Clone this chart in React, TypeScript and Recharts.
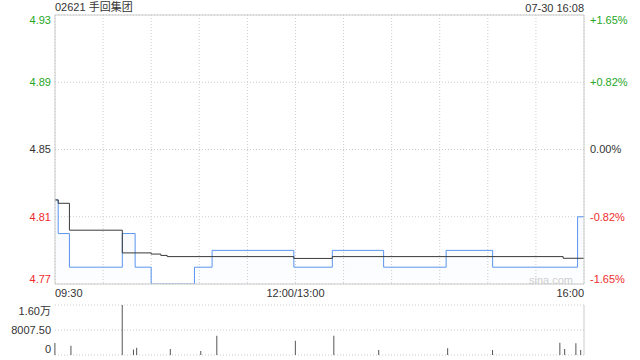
import React from 'react';
import { ComposedChart, Area, Line, XAxis, YAxis, CartesianGrid, BarChart, Bar } from 'recharts';

const title = '02621 手回集团';
const stamp = '07-30 16:08';
const prevClose = 4.85;

// minutes since 09:30 (lunch break removed), change points of the price line
const priceTimes = [0, 2, 9, 42, 50, 60, 87, 98, 149, 173, 205, 244, 273, 326, 330];
const priceValues = [4.82, 4.8, 4.78, 4.8, 4.78, 4.77, 4.78, 4.79, 4.78, 4.79, 4.78, 4.79, 4.78, 4.81, 4.81];

// average price line change points
const avgTimes = [0, 2, 9, 42, 60, 66, 70, 149, 173, 317, 330];
const avgValues = [4.82, 4.818, 4.802, 4.7885, 4.7878, 4.787, 4.7863, 4.7852, 4.7863, 4.7853, 4.7853];

// volume bars
const volTimes = [0, 10, 42, 49, 51, 72, 91, 101, 150, 174, 202, 245, 273, 315, 318, 325, 328];
const volValues = [3840, 2980, 16015, 1800, 2340, 1920, 1280, 6180, 4580, 6180, 1600, 2150, 1600, 3940, 1920, 3740, 1600];

const timeTicks = [0, 30, 60, 90, 120, 150, 180, 210, 240, 270, 300, 330];
const timeLabelTicks = [0, 150, 330];
const timeLabels = ['09:30', '12:00/13:00', '16:00'];

const priceTicks = [4.77, 4.81, 4.85, 4.89, 4.93];
const priceLabels = ['4.77', '4.81', '4.85', '4.89', '4.93'];
const pctLabels = ['-1.65%', '-0.82%', '0.00%', '+0.82%', '+1.65%'];

const volTicks = [0, 8007.5, 16015];
const volLabels = ['0', '8007.50', '1.60万'];

const GREEN = '#26a626';
const RED = '#ee2c2c';
const DARK = '#333333';
const BLUE = '#5a95ee';
const FONT = '"Liberation Sans", Arial, "Noto Sans CJK SC", sans-serif';

const colorFor = (v: number) => (Math.abs(v - prevClose) < 1e-9 ? DARK : v > prevClose ? GREEN : RED);

const allTimes = Array.from(new Set([...priceTimes, ...avgTimes])).sort((a, b) => a - b);
const lineData = allTimes.map((t) => {
  const pi = priceTimes.indexOf(t);
  const ai = avgTimes.indexOf(t);
  return { t, price: pi >= 0 ? priceValues[pi] : null, avg: ai >= 0 ? avgValues[ai] : null };
});
const volData = volTimes.map((t, i) => ({ t, v: volValues[i] }));

const edgeShift = (i: number, n: number, s: number) => (i === n - 1 ? s : i === 0 ? -s : 0);

const LeftTick = (props: any) => {
  const { y, payload } = props;
  const i = priceTicks.indexOf(payload.value);
  if (i < 0) return null;
  return (
    <text x={51} y={y + edgeShift(i, priceTicks.length, 5)} dy="0.35em" textAnchor="end" fontSize={11} fill={colorFor(priceTicks[i])}>
      {priceLabels[i]}
    </text>
  );
};

const RightTick = (props: any) => {
  const { y, payload } = props;
  const i = priceTicks.indexOf(payload.value);
  if (i < 0) return null;
  return (
    <text x={590} y={y + edgeShift(i, priceTicks.length, 5)} dy="0.35em" textAnchor="start" fontSize={11} fill={colorFor(priceTicks[i])}>
      {pctLabels[i]}
    </text>
  );
};

const TimeTick = (props: any) => {
  const { x, payload } = props;
  const i = timeLabelTicks.indexOf(payload.value);
  if (i < 0) return null;
  const anchor = i === 0 ? 'start' : i === timeLabelTicks.length - 1 ? 'end' : 'middle';
  return (
    <text x={x} y={293} dy="0.35em" textAnchor={anchor} fontSize={11} fill={DARK}>
      {timeLabels[i]}
    </text>
  );
};

const VolTick = (props: any) => {
  const { y, payload } = props;
  const i = volTicks.indexOf(payload.value);
  if (i < 0) return null;
  return (
    <text x={51} y={y + edgeShift(i, volTicks.length, 6)} dy="0.35em" textAnchor="end" fontSize={11} fill={DARK}>
      {volLabels[i]}
    </text>
  );
};

export default function App() {
  return (
    <div style={{ position: 'absolute', left: 0, top: 0, width: 640, height: 360, background: '#fff', fontFamily: FONT, overflow: 'hidden' }}>
      <div style={{ position: 'absolute', left: 55, top: 1, fontSize: 11, lineHeight: '12px', color: DARK }}>{title}</div>
      <div style={{ position: 'absolute', right: 56, top: 2, fontSize: 11, lineHeight: '12px', color: DARK }}>{stamp}</div>
      <div style={{ position: 'absolute', left: 0, top: 0 }}>
        <ComposedChart width={640} height={300} data={lineData} margin={{ top: 14, right: 0, bottom: 0, left: 0 }}>
          <defs>
            <linearGradient id="priceFill" x1="0" y1="0" x2="0" y2="1">
              <stop offset="0%" stopColor={BLUE} stopOpacity={0.1} />
              <stop offset="100%" stopColor={BLUE} stopOpacity={0.02} />
            </linearGradient>
          </defs>
          <CartesianGrid yAxisId="price" xAxisId="bottom" stroke="#cccccc" strokeDasharray="1 2" />
          <XAxis xAxisId="bottom" dataKey="t" type="number" domain={[0, 330]} ticks={timeTicks} interval={0}
            height={16} axisLine={{ stroke: '#cccccc' }} tickLine={false} tick={<TimeTick />} allowDataOverflow />
          <XAxis xAxisId="top" orientation="top" dataKey="t" type="number" domain={[0, 330]} height={1}
            axisLine={{ stroke: '#cccccc' }} tickLine={false} tick={false} />
          <YAxis yAxisId="price" orientation="left" type="number" domain={[4.77, 4.93]} ticks={priceTicks} interval={0}
            width={55} axisLine={{ stroke: '#cccccc' }} tickLine={false} tick={<LeftTick />} allowDataOverflow />
          <YAxis yAxisId="pct" orientation="right" type="number" domain={[4.77, 4.93]} ticks={priceTicks} interval={0}
            width={56} axisLine={{ stroke: '#cccccc' }} tickLine={false} tick={<RightTick />} allowDataOverflow />
          <Area xAxisId="bottom" yAxisId="price" dataKey="price" type="stepAfter" stroke={BLUE} strokeWidth={1}
            fill="url(#priceFill)" connectNulls isAnimationActive={false} dot={false} activeDot={false} />
          <Line xAxisId="bottom" yAxisId="price" dataKey="avg" type="stepAfter" stroke="#3a3a3a" strokeWidth={1}
            connectNulls isAnimationActive={false} dot={false} activeDot={false} />
          <text x={573} y={280} dy="0.35em" textAnchor="end" fontSize={11} fill="#cfcfcf">sina.com</text>
        </ComposedChart>
      </div>
      <div style={{ position: 'absolute', left: 0, top: 300 }}>
        <BarChart width={640} height={60} data={volData} margin={{ top: 5, right: 0, bottom: 5, left: 0 }}>
          <CartesianGrid yAxisId="vol" xAxisId="vx" vertical={false} stroke="#cccccc" strokeDasharray="1 2" />
          <XAxis xAxisId="vx" dataKey="t" type="number" domain={[0, 330]} hide />
          <YAxis yAxisId="vol" orientation="left" type="number" domain={[0, 16015]} ticks={volTicks} interval={0}
            width={55} axisLine={false} tickLine={false} tick={<VolTick />} />
          <YAxis yAxisId="volR" orientation="right" type="number" domain={[0, 16015]} width={56}
            axisLine={{ stroke: '#cccccc' }} tickLine={false} tick={false} />
          <Bar xAxisId="vx" yAxisId="vol" dataKey="v" fill="#555555" barSize={1} isAnimationActive={false} />
        </BarChart>
      </div>
    </div>
  );
}
